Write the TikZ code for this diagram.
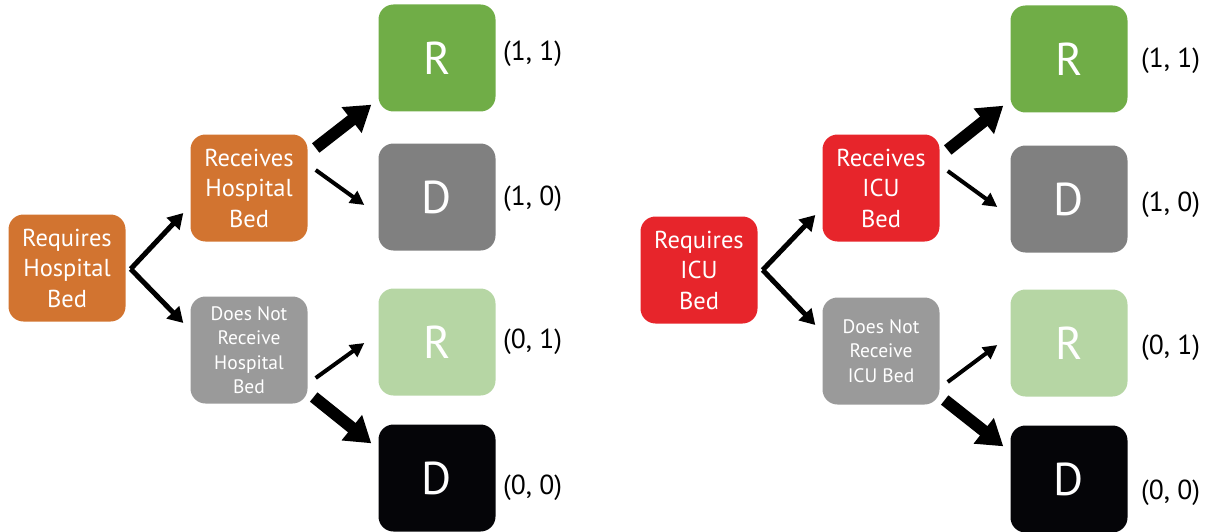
\documentclass[tikz,border=0pt]{standalone}
\usepackage{fontspec}
\setmainfont{PT Sans}
\usetikzlibrary{arrows.meta,calc}
\definecolor{corange}{RGB}{210,116,48}
\definecolor{cred}{RGB}{231,37,43}
\definecolor{cgreen}{RGB}{112,173,71}
\definecolor{clgreen}{RGB}{182,214,164}
\definecolor{cdgray}{RGB}{128,128,128}
\definecolor{cmgray}{RGB}{154,154,154}
\definecolor{cblack}{RGB}{5,5,8}
\tikzset{
  box/.style={rounded corners=15pt, minimum width=117pt, minimum height=107pt, inner sep=0pt, align=center, text=white},
  bigtext/.style={font=\fontsize{24.5}{30.5}\selectfont},
  smalltext/.style={font=\fontsize{19.5}{24.5}\selectfont},
  letter/.style={font=\fontsize{46}{46}\selectfont},
  payoff/.style={font=\fontsize{27.5}{30}\selectfont, anchor=west, inner sep=0pt},
  forkarrow/.style={line width=5pt, -{Triangle[length=15pt,width=17pt]}},
  thinarrow/.style={line width=4pt, -{Triangle[length=14pt,width=14pt]}},
  thickarrow/.style={line width=12pt, -{Triangle[length=25pt,width=31pt]}},
}
\begin{document}
\begin{tikzpicture}[x=1pt,y=-1pt]
\useasboundingbox (0,0) rectangle (1217,532);
% ---------- left tree ----------
\node[box,bigtext,fill=corange] (req1) at (67,268) {Requires\\Hospital\\Bed};
\node[box,bigtext,fill=corange] (rec1) at (249,188) {Receives\\Hospital\\Bed};
\node[box,smalltext,fill=cmgray] (dnr1) at (249,350) {Does Not\\Receive\\Hospital\\Bed};
\node[box,letter,fill=cgreen] (r11) at (437,58) {R};
\node[box,letter,fill=cdgray] (d10) at (437,197) {D};
\node[box,letter,fill=clgreen] (r01) at (437,342) {R};
\node[box,letter,fill=cblack] (d00) at (437,478) {D};
\node[payoff] (p11) at (503,54) {(1, 1)};
\node[payoff] (p10) at (503,199) {(1, 0)};
\node[payoff] (p01) at (503,342) {(0, 1)};
\node[payoff] (p00) at (503,488) {(0, 0)};
\coordinate (v1) at ($(req1.east)+(5,1)$);
\draw[forkarrow] (v1) -- ($(rec1.west)+(-7,25)$);
\draw[forkarrow] (v1) -- ($(dnr1.west)+(-7,-27)$);
\draw[thickarrow] ($(rec1.east)+(8,-40)$) -- ($(r11.south west)+(-7,-7)$);
\draw[thinarrow] ($(rec1.east)+(8,-18)$) -- ($(d10.west)+(-14,8)$);
\draw[thinarrow] ($(dnr1.east)+(8,28)$) -- ($(r01.west)+(-14,1)$);
\draw[thickarrow] ($(dnr1.east)+(6,47)$) -- ($(d00.north west)+(-7,19)$);
% ---------- right tree ----------
\node[box,bigtext,fill=cred] (req2) at (699,270) {Requires\\ICU\\Bed};
\node[box,bigtext,fill=cred] (rec2) at (881,188) {Receives\\ICU\\Bed};
\node[box,smalltext,fill=cmgray] (dnr2) at (881,351) {Does Not\\Receive\\ICU Bed};
\node[box,letter,fill=cgreen] (r11b) at (1069,59) {R};
\node[box,letter,fill=cdgray] (d10b) at (1069,199) {D};
\node[box,letter,fill=clgreen] (r01b) at (1069,343) {R};
\node[box,letter,fill=cblack] (d00b) at (1069,479) {D};
\node[payoff] (p11b) at (1141,61) {(1, 1)};
\node[payoff] (p10b) at (1141,205) {(1, 0)};
\node[payoff] (p01b) at (1141,348) {(0, 1)};
\node[payoff] (p00b) at (1141,493) {(0, 0)};
\coordinate (v2) at ($(req2.east)+(5,0)$);
\draw[forkarrow] (v2) -- ($(rec2.west)+(-7,27)$);
\draw[forkarrow] (v2) -- ($(dnr2.west)+(-7,-26)$);
\draw[thickarrow] ($(rec2.east)+(8,-38)$) -- ($(r11b.south west)+(-7,-7)$);
\draw[thinarrow] ($(rec2.east)+(8,-17)$) -- ($(d10b.west)+(-13,8)$);
\draw[thinarrow] ($(dnr2.east)+(8,31)$) -- ($(r01b.west)+(-13,2)$);
\draw[thickarrow] ($(dnr2.east)+(5,49)$) -- ($(d00b.north west)+(-7,21)$);
\end{tikzpicture}
\end{document}
